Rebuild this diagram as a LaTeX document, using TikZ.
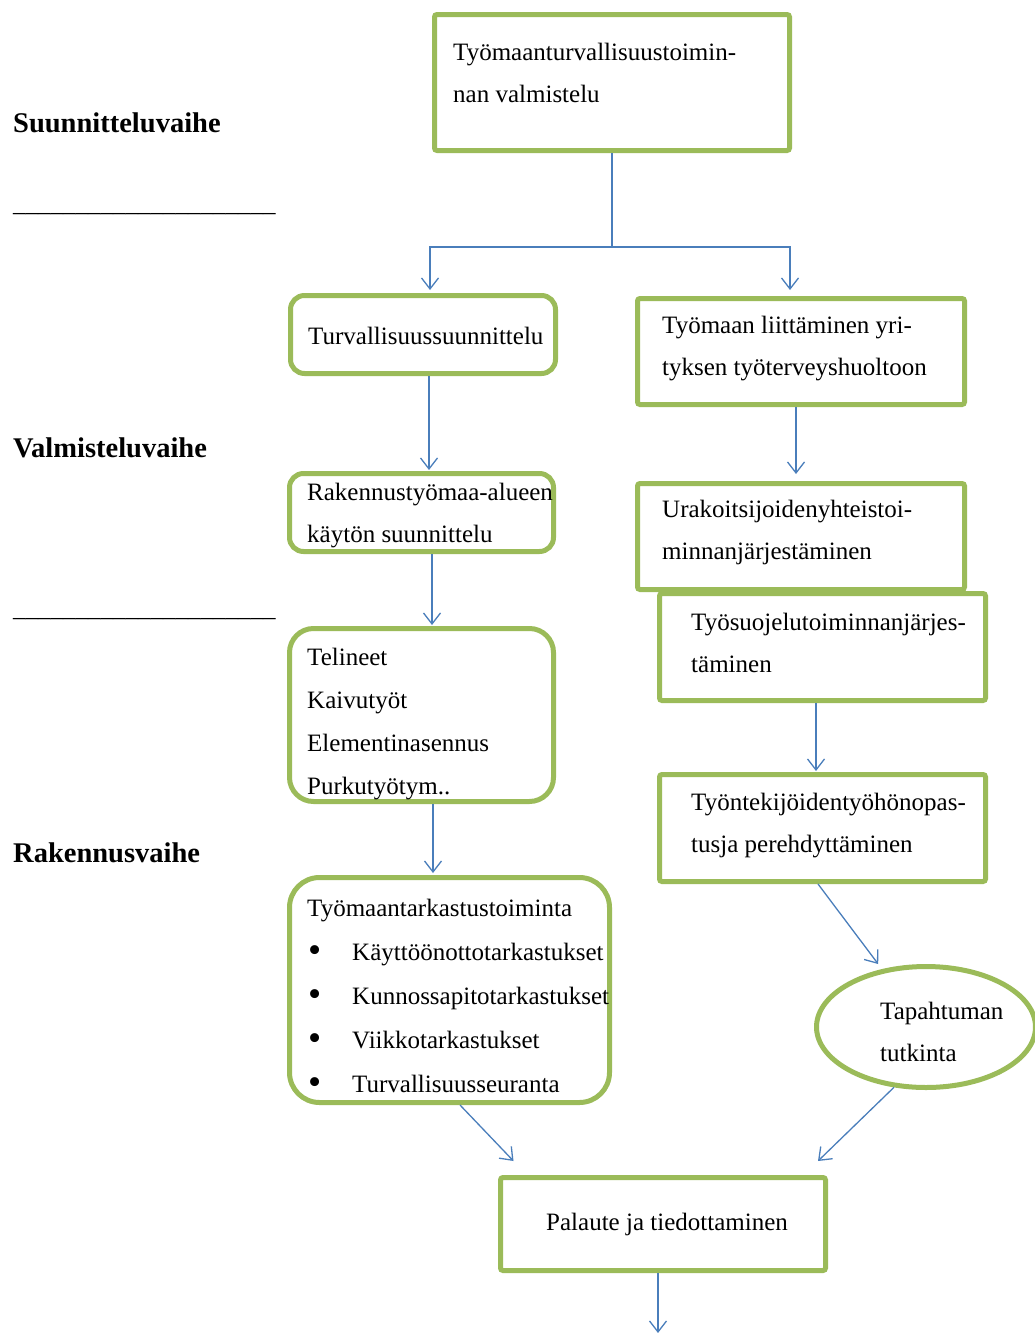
\documentclass[tikz,border=0pt]{standalone}
\usepackage{fontspec}
\setmainfont{Liberation Serif}
\usetikzlibrary{shapes.geometric,arrows.meta}
\definecolor{boxgreen}{HTML}{9BBB59}
\definecolor{arrowblue}{HTML}{4A7EBB}
\newcommand{\bigbullet}{\makebox[45pt][l]{\hspace*{1pt}\raisebox{-2.5pt}{\scalebox{1.5}{•}}}}
\tikzset{
  box/.style={rectangle, draw=boxgreen, line width=5pt, fill=white, inner sep=0pt, rounded corners=2.5pt},
  rbox/.style={box, rounded corners=#1},
  ebox/.style={ellipse, draw=boxgreen, line width=5pt, fill=white, inner sep=0pt},
  txt/.style={anchor=west, align=left, inner sep=0pt, font=\fontsize{25}{42}\selectfont},
  phase/.style={anchor=base west, inner sep=0pt, font=\fontsize{28.5}{34}\selectfont\bfseries},
  rulertxt/.style={anchor=base west, inner sep=0pt, font=\fontsize{25}{30}\selectfont},
  arr/.style={draw=arrowblue, line width=1.3pt, -{Straight Barb[length=11pt,width=17pt]}},
  plainline/.style={draw=arrowblue, line width=1.3pt},
}
\begin{document}
\begin{tikzpicture}[x=1pt,y=-1pt]
\useasboundingbox (0,0) rectangle (1035,1333);

% phase labels
\node[phase] (p1) at (13,132) {Suunnitteluvaihe};
\node[phase] (p2) at (13,457) {Valmisteluvaihe};
\node[phase] (p3) at (13,862) {Rakennusvaihe};
\node[rulertxt] (s1) at (13,211) {\_\_\_\_\_\_\_\_\_\_\_\_\_\_\_\_\_\_\_\_\_};
\node[rulertxt] (s2) at (13,616) {\_\_\_\_\_\_\_\_\_\_\_\_\_\_\_\_\_\_\_\_\_};

% boxes
\node[box, minimum width=355pt, minimum height=136pt] (b1) at (612,82.5) {};
\node[rbox=14pt, minimum width=265pt, minimum height=78pt] (b2) at (423,334.5) {};
\node[box, minimum width=327pt, minimum height=106pt] (b3) at (801,351.5) {};
\node[rbox=14pt, minimum width=264pt, minimum height=78pt] (b4) at (421.5,512.5) {};
\node[box, minimum width=327pt, minimum height=106pt] (b5) at (801,536.5) {};
\node[box, minimum width=326pt, minimum height=107pt] (b6) at (822.5,647) {};
\node[rbox=24pt, minimum width=264pt, minimum height=173pt] (b7) at (421.5,715) {};
\node[box, minimum width=326pt, minimum height=107pt] (b8) at (822.5,828) {};
\node[rbox=30pt, minimum width=320pt, minimum height=225pt] (b9) at (449.5,990) {};
\node[ebox, minimum width=219pt, minimum height=121pt] (b10) at (926,1027) {};
\node[box, minimum width=325pt, minimum height=93pt] (b11) at (663,1224) {};
\coordinate (exit) at (658,1333);

% texts
\node[txt] (t1) at (453,73) {Työmaanturvallisuustoimin-\\nan valmistelu};
\node[txt] (t2) at (308,336) {Turvallisuussuunnittelu};
\node[txt] (t3) at (662,349) {Työmaan liittäminen yri-\\tyksen työterveyshuoltoon};
\node[txt] (t4) at (307,516) {Rakennustyömaa-alueen\\käytön suunnittelu};
\node[txt] (t5) at (662,532) {Urakoitsijoidenyhteistoi-\\minnanjärjestäminen};
\node[txt] (t6) at (691,643) {Työsuojelutoiminnanjärjes-\\täminen};
\node[txt, font=\fontsize{25}{42.7}\selectfont] (t7) at (307,724) {Telineet\\Kaivutyöt\\Elementinasennus\\Purkutyötym..};
\node[txt] (t8) at (691,826) {Työntekijöidentyöhönopas-\\tusja perehdyttäminen};
\node[txt, font=\fontsize{25}{44}\selectfont] (t9) at (307,997) {Työmaantarkastustoiminta\\
  \bigbullet Käyttöönottotarkastukset\\
  \bigbullet Kunnossapitotarkastukset\\
  \bigbullet Viikkotarkastukset\\
  \bigbullet Turvallisuusseuranta};
\node[txt] (t10) at (880,1032) {Tapahtuman\\tutkinta};
\node[txt, anchor=center] (t11) at (667,1224) {Palaute ja tiedottaminen};

% connectors
\draw[plainline] (b1.south) -- ++(0,94) coordinate (fork);
\draw[arr] (fork) -| ([xshift=7pt,yshift=3pt]b2.north);
\draw[arr] (fork) -| ([xshift=-11pt,yshift=6pt]b3.north);
\draw[arr] ([xshift=6pt]b2.south) -- ([xshift=7.5pt,yshift=1pt]b4.north);
\draw[arr] ([xshift=-5pt]b3.south) -- ([xshift=-5pt,yshift=7pt]b5.north);
\draw[arr] ([xshift=10.5pt]b4.south) -- ([xshift=10.5pt,yshift=1pt]b7.north);
\draw[arr] ([xshift=-6.5pt]b6.south) -- ([xshift=-6.5pt,yshift=1pt]b8.north);
\draw[arr] ([xshift=11.5pt]b7.south) -- ([xshift=-16.5pt,yshift=2pt]b9.north);
\draw[arr] ([xshift=-4.5pt]b8.south) -- ([yshift=6pt]b10.130);
\draw[arr] ([xshift=10.5pt]b9.south) -- ([xshift=15.5pt,yshift=14pt]b11.north west);
\draw[arr] (b10.242) -- ([xshift=-10pt,yshift=14pt]b11.north east);
\draw[arr] ([xshift=-5pt]b11.south) -- (exit);
\end{tikzpicture}
\end{document}
